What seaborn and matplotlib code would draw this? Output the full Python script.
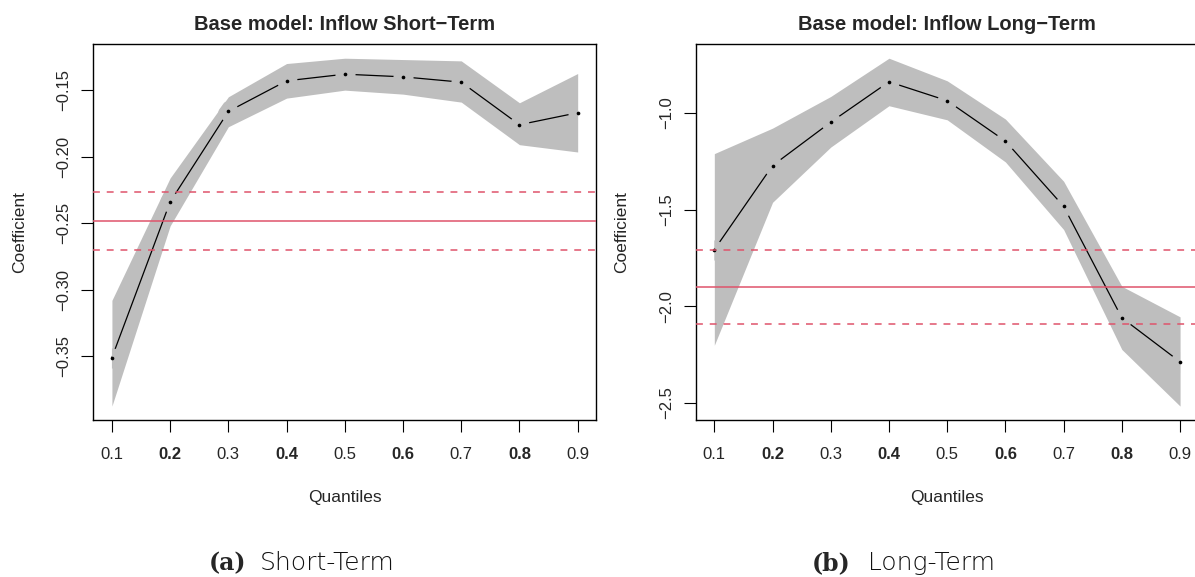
import numpy as np
import pandas as pd
import matplotlib
matplotlib.use("Agg")
import matplotlib.pyplot as plt
import seaborn as sns

# ---- data ----
quantiles = [0.1, 0.2, 0.3, 0.4, 0.5, 0.6, 0.7, 0.8, 0.9]
tick_labels = ["0.1", "0.2", "0.3", "0.4", "0.5", "0.6", "0.7", "0.8", "0.9"]

st_coef = [-0.351, -0.234, -0.166, -0.143, -0.138, -0.140, -0.144, -0.176, -0.167]
st_lower = [-0.3875, -0.252, -0.1775, -0.156, -0.150, -0.153, -0.159, -0.191, -0.1965]
st_upper = [-0.308, -0.216, -0.155, -0.130, -0.126, -0.127, -0.128, -0.1595, -0.1375]
st_ols = [-0.248, -0.270, -0.2268]  # estimate, lower, upper

lt_coef = [-1.707, -1.272, -1.047, -0.838, -0.936, -1.145, -1.483, -2.060, -2.288]
lt_lower = [-2.202, -1.462, -1.176, -0.962, -1.035, -1.253, -1.603, -2.224, -2.517]
lt_upper = [-1.210, -1.078, -0.914, -0.716, -0.833, -1.031, -1.353, -1.897, -2.055]
lt_ols = [-1.898, -2.091, -1.707]

st_yticks = [-0.35, -0.30, -0.25, -0.20, -0.15]
st_ylabels = ["\u22120.35", "\u22120.30", "\u22120.25", "\u22120.20", "\u22120.15"]
lt_yticks = [-2.5, -2.0, -1.5, -1.0]
lt_ylabels = ["\u22122.5", "\u22122.0", "\u22121.5", "\u22121.0"]

titles = ["Base model: Inflow Short\u2212Term", "Base model: Inflow Long\u2212Term"]
captions = [("(a)", "Short-Term"), ("(b)", "Long-Term")]

sns.set_style("white")
plt.rcParams["font.family"] = ["Liberation Sans", "DejaVu Sans"]

BAND = "#BEBEBE"
RED = "#DF536B"

fig = plt.figure(figsize=(11.95, 5.77), dpi=100)
W, H = 1195, 577
ax_l = fig.add_axes([93.3 / W, 1 - 420 / H, 503 / W, 375.7 / H])
ax_r = fig.add_axes([695.7 / W, 1 - 420 / H, 503 / W, 375.7 / H])


def panel(ax, coef, lower, upper, ols, yticks, ylabels, title):
    df = pd.DataFrame({"q": quantiles, "coef": coef, "lo": lower, "hi": upper})
    poly = ax.fill_between(df["q"], df["lo"], df["hi"], color=BAND, lw=0, zorder=1)
    clip_path = poly.get_paths()[0]
    sns.lineplot(data=df, x="q", y="coef", color="black", lw=0.9, ax=ax,
                 zorder=2, sort=False, estimator=None)
    # gaps around points (R type="b"), masked in band colour inside the band
    sns.scatterplot(data=df, x="q", y="coef", color=BAND, s=210, linewidth=0,
                    ax=ax, zorder=3)
    mask = ax.collections[-1]
    mask.set_clip_path(clip_path, ax.transData)
    sns.scatterplot(data=df, x="q", y="coef", color="black", s=7, linewidth=0,
                    ax=ax, zorder=4)
    ax.axhline(ols[0], color=RED, lw=1.1, zorder=5)
    ax.axhline(ols[1], color=RED, lw=1.1, ls=(0, (4.5, 4.5)), zorder=5)
    ax.axhline(ols[2], color=RED, lw=1.1, ls=(0, (4.5, 4.5)), zorder=5)

    lo, hi = min(lower), max(upper)
    pad = 0.04 * (hi - lo)
    ax.set_ylim(lo - pad, hi + pad)
    xr = quantiles[-1] - quantiles[0]
    ax.set_xlim(quantiles[0] - 0.04 * xr, quantiles[-1] + 0.04 * xr)

    ax.set_xticks(quantiles)
    ax.set_xticklabels(tick_labels)
    for i, t in enumerate(ax.get_xticklabels()):
        if i % 2 == 1:
            t.set_fontweight("bold")
    ax.set_yticks(yticks)
    ax.set_yticklabels(ylabels, va="center")
    ax.tick_params(axis="both", direction="out", length=8.3, width=0.8,
                   color="black", labelsize=12, bottom=True, left=True)
    ax.tick_params(axis="x", pad=11)
    ax.tick_params(axis="y", pad=7.5, labelrotation=90)
    for s in ax.spines.values():
        s.set_color("black")
        s.set_linewidth(1.0)
    ax.set_xlabel("Quantiles", fontsize=12.5, labelpad=20)
    ax.set_ylabel("Coefficient", fontsize=12.5, labelpad=21)
    ax.set_title(title, fontsize=14.5, fontweight="bold", pad=10.5)


panel(ax_l, st_coef, st_lower, st_upper, st_ols, st_yticks, st_ylabels, titles[0])
panel(ax_r, lt_coef, lt_lower, lt_upper, lt_ols, lt_yticks, lt_ylabels, titles[1])

# sub-captions
base_y = 1 - 570 / H
for (lab, txt), x0, x1 in zip(captions, [208.3 / W, 811.7 / W], [260 / W, 868.3 / W]):
    fig.text(x0, base_y, lab, family="DejaVu Serif", fontweight="bold", fontsize=17,
             ha="left", va="baseline")
    fig.text(x1, base_y, txt, family="DejaVu Sans", fontweight="light", fontsize=18,
             ha="left", va="baseline", color="#111111")

fig.savefig("out.png", dpi=100)
